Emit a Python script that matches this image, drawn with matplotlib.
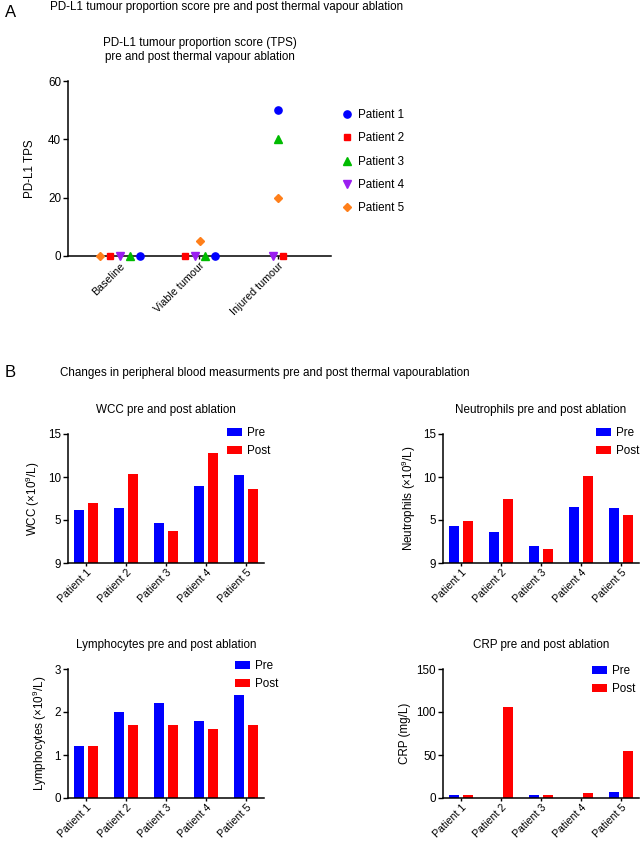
import matplotlib
matplotlib.use("Agg")
import matplotlib.pyplot as plt
import numpy as np

plt.rcParams['font.family'] = ['Liberation Sans', 'DejaVu Sans']
plt.rcParams['mathtext.fontset'] = 'custom'
plt.rcParams['mathtext.rm'] = 'Liberation Sans'
plt.rcParams['mathtext.it'] = 'Liberation Sans:italic'

# ---------------- data ----------------
tps_categories = ["Baseline", "Viable tumour", "Injured tumour"]
patients = ["Patient 1", "Patient 2", "Patient 3", "Patient 4", "Patient 5"]
tps_p1 = [0, 0, 50]
tps_p2 = [0, 0, 0]
tps_p3 = [0, 0, 40]
tps_p4 = [0, 0, 0]
tps_p5 = [0, 5, 20]

wcc_pre = [6.2, 6.4, 4.7, 9.0, 10.2]
wcc_post = [7.0, 10.4, 3.7, 12.8, 8.6]
neut_pre = [4.3, 3.6, 2.0, 6.5, 6.4]
neut_post = [4.9, 7.5, 1.6, 10.1, 5.6]
lymph_pre = [1.2, 2.0, 2.2, 1.8, 2.4]
lymph_post = [1.2, 1.7, 1.7, 1.6, 1.7]
crp_pre = [4, 0, 4, 0, 7]
crp_post = [4, 106, 4, 6, 55]

# ---------------- layout ----------------
W, H = 643, 841
fig = plt.figure(figsize=(W / 100, H / 100), dpi=100)

def px_axes(l, t, r, b):
    return fig.add_axes([l / W, 1 - b / H, (r - l) / W, (b - t) / H])

FS = 8.4
XFS = 7.7
BLUE = '#0000ff'
RED = '#ff0000'

def style_axes(ax):
    for s in ['top', 'right']:
        ax.spines[s].set_visible(False)
    for s in ['left', 'bottom']:
        ax.spines[s].set_linewidth(1.1)
    ax.tick_params(axis='both', labelsize=FS, width=1.0, length=3.5, pad=1.5)
    ax.tick_params(axis='x', labelsize=XFS, length=2.5, pad=1.0)

# ---------------- Panel A ----------------
fig.text(5 / W, 1 - 17 / H, "A", fontsize=12, ha='left', va='baseline')
fig.text(50 / W, 1 - 10 / H, "PD-L1 tumour proportion score pre and post thermal vapour ablation",
         fontsize=FS, ha='left', va='baseline')

axA = px_axes(68, 81, 331, 256)
style_axes(axA)
xcat = np.arange(len(tps_categories))
series = [tps_p1, tps_p2, tps_p3, tps_p4, tps_p5]
markers = ['o', 's', '^', 'v', 'D']
mcolors = ['#0000ff', '#ff0000', '#00bb00', '#9a1ef0', '#ff7f1a']
msizes = [5.2, 5.0, 5.2, 5.2, 4.0]
# horizontal jitter (layout only, in category units) per series per category
jitter = [[0.25, 0.20, 0.0],
          [-0.13, -0.18, 0.06],
          [0.13, 0.08, 0.0],
          [0.0, -0.05, -0.06],
          [-0.25, 0.01, 0.0]]
for vals, m, c, ms, jit, lab in zip(series, markers, mcolors, msizes, jitter, patients):
    axA.plot(xcat + np.array(jit), vals, ls='none', marker=m, color=c, ms=ms,
             clip_on=False, label=lab, zorder=3)
axA.set_xlim(-0.66, 2.67)
axA.set_ylim(0, 60)
axA.set_yticks([0, 20, 40, 60])
axA.set_xticks(xcat)
axA.set_xticklabels(tps_categories, rotation=45, ha='right', rotation_mode='anchor')
axA.set_ylabel("PD-L1 TPS", fontsize=FS, labelpad=9)
axA.set_title("PD-L1 tumour proportion score (TPS)\npre and post thermal vapour ablation",
              fontsize=FS, pad=15, x=0.5, linespacing=1.2)
axA.legend(loc='upper left', bbox_to_anchor=(341 / W, 1 - 109 / H), bbox_transform=fig.transFigure,
           frameon=False, fontsize=FS, labelspacing=0.97, handletextpad=0.5, handlelength=1.0,
           borderaxespad=0, borderpad=0)

# ---------------- Panel B ----------------
fig.text(5 / W, 1 - 377 / H, "B", fontsize=12, ha='left', va='baseline')
fig.text(60 / W, 1 - 376 / H,
         "Changes in peripheral blood measurments pre and post thermal vapourablation",
         fontsize=FS, ha='left', va='baseline')

def bar_panel(box, pre, post, ylim, yticks, yticklabels, ylabel, title, leg_xy):
    ax = px_axes(*box)
    style_axes(ax)
    x = np.arange(len(patients))
    w = 0.25
    ax.bar(x - 0.18, pre, width=w, color=BLUE, label='Pre', zorder=2)
    ax.bar(x + 0.18, post, width=w, color=RED, label='Post', zorder=2)
    ax.set_xlim(-0.45, 4.45)
    ax.set_ylim(*ylim)
    ax.set_yticks(yticks)
    ax.set_yticklabels(yticklabels)
    ax.set_xticks(x)
    ax.set_xticklabels(patients, rotation=45, ha='right', rotation_mode='anchor')
    ax.set_ylabel(ylabel, fontsize=FS, labelpad=4)
    ax.set_title(title, fontsize=FS, pad=15)
    ax.legend(loc='upper left', bbox_to_anchor=(leg_xy[0] / W, 1 - leg_xy[1] / H),
              bbox_transform=fig.transFigure, frameon=False, fontsize=FS,
              labelspacing=0.55, handlelength=1.25, handleheight=0.7, handletextpad=0.5,
              borderaxespad=0, borderpad=0)
    return ax

bar_panel((68, 434, 264, 563), wcc_pre, wcc_post, (0, 15), [0, 5, 10, 15],
          ["9", "5", "10", "15"], r"WCC ($\times$10$^9$/L)", "WCC pre and post ablation",
          (227, 427))
bar_panel((443, 434, 639, 563), neut_pre, neut_post, (0, 15), [0, 5, 10, 15],
          ["9", "5", "10", "15"], r"Neutrophils ($\times$10$^9$/L)",
          "Neutrophils pre and post ablation", (596, 427))
bar_panel((68, 669, 264, 798), lymph_pre, lymph_post, (0, 3), [0, 1, 2, 3],
          ["0", "1", "2", "3"], r"Lymphocytes ($\times$10$^9$/L)",
          "Lymphocytes pre and post ablation", (235, 660))
bar_panel((443, 669, 639, 798), crp_pre, crp_post, (0, 150), [0, 50, 100, 150],
          ["0", "50", "100", "150"], "CRP (mg/L)", "CRP pre and post ablation",
          (592, 665))

fig.savefig("out.png", dpi=100, facecolor='white')
